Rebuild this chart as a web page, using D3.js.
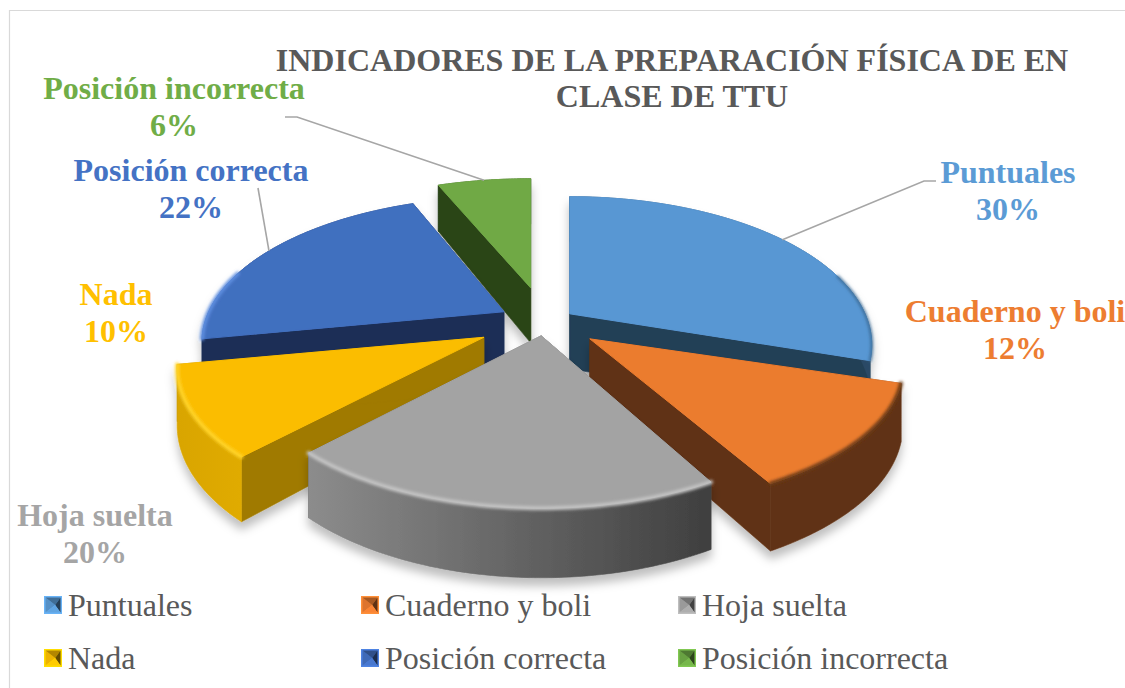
<!DOCTYPE html>
<html><head><meta charset="utf-8">
<script src="https://cdnjs.cloudflare.com/ajax/libs/d3/7.8.5/d3.min.js"></script>
<style>html,body{margin:0;padding:0;background:#fff;overflow:hidden}svg{display:block}text{font-family:"Liberation Serif",serif}</style>
</head><body><div id="c"></div>
<script>
const categories = ["Puntuales","Cuaderno y boli","Hoja suelta","Nada","Posición correcta","Posición incorrecta"];
const values = [30,12,20,10,22,6];
const titleLines = ["INDICADORES DE LA PREPARACIÓN FÍSICA DE EN","CLASE DE TTU"];

const explode = [0.10,0.19,0.10,0.228,0.153,0.25];
const radiusX = [0.965,1,0.94,0.98,0.965,0.98];
const radiusY = [1.02,0.97,0.98,1.0,1.0,0.95];
const topColors = ["#5897d3","#eb7c2f","#a3a3a3","#fbbd00","#416fbf","#6fa945"];
const labelColors = ["#5b9bd5","#ed7d31","#a5a5a5","#ffc000","#4472c4","#70ad47"];
const wallColors = ["#243f57","#613214","#555555","#a07a00","#1b2e56","#2c4419"];
const rimLeft = ["#2a4a66","#613214","#8c8c8c","#d9a500","#1b2e56","#2c4419"];
const rimRight = ["#2a4a66","#613214","#3f3f3f","#e0ab00","#1b2e56","#2c4419"];
const bevel = ["#3a6a94","#6b3a16","#c4c4c4","#ffd42a","#5f8fe0","#6fa945"];
const drawOrder = [5,0,4,3,1,2];
const labelX = [1008,1015,95,116,191,174];
const labelY = [183,322,526,305,181,99];
const leaderStart = [[936,181],null,null,null,[258,188],[285,117]];

const W=1125,H=688;
const cx=545,cy=322,A=139,B=306,P=0.21,T=55;
const svg=d3.select("#c").append("svg").attr("width",W).attr("height",H).attr("viewBox",[0,0,W,H]);
const defs=svg.append("defs");
const sh=defs.append("filter").attr("id","shadow").attr("x","-30%").attr("y","-30%").attr("width","160%").attr("height","160%");
sh.append("feDropShadow").attr("dx",0).attr("dy",8).attr("stdDeviation",5).attr("flood-color","#000").attr("flood-opacity",0.25);
defs.append("filter").attr("id","soft").attr("x","-20%").attr("y","-20%").attr("width","140%").attr("height","140%")
  .append("feGaussianBlur").attr("stdDeviation",1.4);

// frame
svg.append("path").attr("d",`M9.5,688V10.5H${W}`).attr("fill","none").attr("stroke","#d9d9d9").attr("stroke-width",1.2);

const pie=d3.pie().sort(null).startAngle(0).endAngle(2*Math.PI)(values);
const line=d3.line();
const scale=y=>1/(1-P*y);
function apex(i){
  const m=(pie[i].startAngle+pie[i].endAngle)/2;
  return [cx+explode[i]*B*Math.sin(m), cy-explode[i]*A*Math.cos(m)];
}
function rimPt(i,a,drop){
  const [ax,ay]=apex(i), X=Math.sin(a), Y=-Math.cos(a), s=scale(Y);
  return [ax+B*radiusX[i]*X*s, ay+A*radiusY[i]*Y*s+(drop?T*s:0)];
}
function arcPts(i,a0,a1,drop){
  return d3.range(0,61).map(k=>rimPt(i,a0+(a1-a0)*k/60,drop));
}
const slices=svg.append("g");
drawOrder.forEach(i=>{
  const d=pie[i],a0=d.startAngle,a1=d.endAngle,ap=apex(i),apD=[ap[0],ap[1]+T];
  const g=slices.append("g").attr("filter","url(#shadow)");
  const top=arcPts(i,a0,a1,false), bot=arcPts(i,a0,a1,true);
  const xs=top.concat(bot).map(p=>p[0]);
  const gid="rim"+i;
  const lg=defs.append("linearGradient").attr("id",gid).attr("gradientUnits","userSpaceOnUse")
    .attr("x1",d3.min(xs)).attr("x2",d3.max(xs)).attr("y1",0).attr("y2",0);
  lg.append("stop").attr("offset",0).attr("stop-color",rimLeft[i]);
  lg.append("stop").attr("offset",1).attr("stop-color",rimRight[i]);
  [a0,a1].forEach(a=>{
    const t=rimPt(i,a,false),b=rimPt(i,a,true);
    g.append("path").attr("d",line([ap,t,b,apD])+"Z").attr("fill",wallColors[i]).attr("stroke",wallColors[i]).attr("stroke-width",0.6);
  });
  g.append("path").attr("d",line(top.concat(bot.slice().reverse()))+"Z")
    .attr("fill",`url(#${gid})`).attr("stroke",`url(#${gid})`).attr("stroke-width",0.6).attr("stroke-linejoin","round");
  g.append("path").attr("d",line([ap].concat(top))+"Z").attr("fill",topColors[i]).attr("stroke",topColors[i]).attr("stroke-width",1).attr("stroke-linejoin","round");
  const front=d3.range(0,61).map(k=>a0+(a1-a0)*k/60).filter(a=>-Math.cos(a)>=-0.3);
  if(front.length>1 && i!==5){
    g.append("path").attr("d",line(front.map(a=>rimPt(i,a,false)))).attr("fill","none")
      .attr("stroke",bevel[i]).attr("stroke-width",i===0?2.5:4).attr("stroke-linecap","round").attr("filter","url(#soft)");
  }
});

// leader lines
const leaders=svg.append("g").attr("fill","none").attr("stroke","#a6a6a6").attr("stroke-width",1.6);
leaderStart.forEach((s,i)=>{
  if(!s)return;
  const m=(pie[i].startAngle+pie[i].endAngle)/2, e=rimPt(i,m,false);
  const pts = i===4 ? [s,e] : [s,[s[0]+(i===0?-12:12),s[1]],e];
  leaders.append("path").attr("d",line(pts));
});

// title
svg.append("g").selectAll("text").data(titleLines).join("text")
  .attr("x",672).attr("y",(d,i)=>71+i*35.5).attr("text-anchor","middle")
  .attr("font-size",32).attr("font-weight","bold").attr("fill","#595959").text(d=>d);

// data labels
const lab=svg.append("g").attr("font-weight","bold").attr("font-size",32).attr("text-anchor","middle");
categories.forEach((c,i)=>{
  const t=lab.append("g").attr("fill",labelColors[i]);
  t.append("text").attr("x",labelX[i]).attr("y",labelY[i]).text(c);
  t.append("text").attr("x",labelX[i]).attr("y",labelY[i]+36.5).text(values[i]+"%");
});

// legend
const colX=d3.scalePoint().domain([0,1,2]).range([44,678]);
const rowY=d3.scalePoint().domain([0,1]).range([596,649]);
const m=18;
categories.forEach((c,i)=>{
  const x=colX(i%3),y=rowY(Math.floor(i/3));
  const g=svg.append("g").attr("transform",`translate(${x},${y})`);
  const base=d3.color(labelColors[i]);
  const o=[0,0],tr=[m,0],br=[m,m],bl=[0,m],c0=[m*0.62,m/2];
  g.append("path").attr("d",line([o,tr,br,bl])+"Z").attr("fill",base.brighter(0.4));
  const inset=1.5, a=[inset,inset],b=[m-inset,inset],cc=[m-inset,m-inset],dd=[inset,m-inset];
  g.append("path").attr("d",line([a,c0,dd])+"Z").attr("fill",base.darker(0.2));
  g.append("path").attr("d",line([a,b,c0])+"Z").attr("fill",base.darker(1));
  g.append("path").attr("d",line([b,cc,c0])+"Z").attr("fill",base.darker(2.6));
  g.append("path").attr("d",line([dd,c0,cc])+"Z").attr("fill",base.brighter(0.15));
  svg.append("text").attr("x",x+24).attr("y",y+20).attr("font-size",32).attr("fill","#595959").text(c);
});
</script></body></html>
